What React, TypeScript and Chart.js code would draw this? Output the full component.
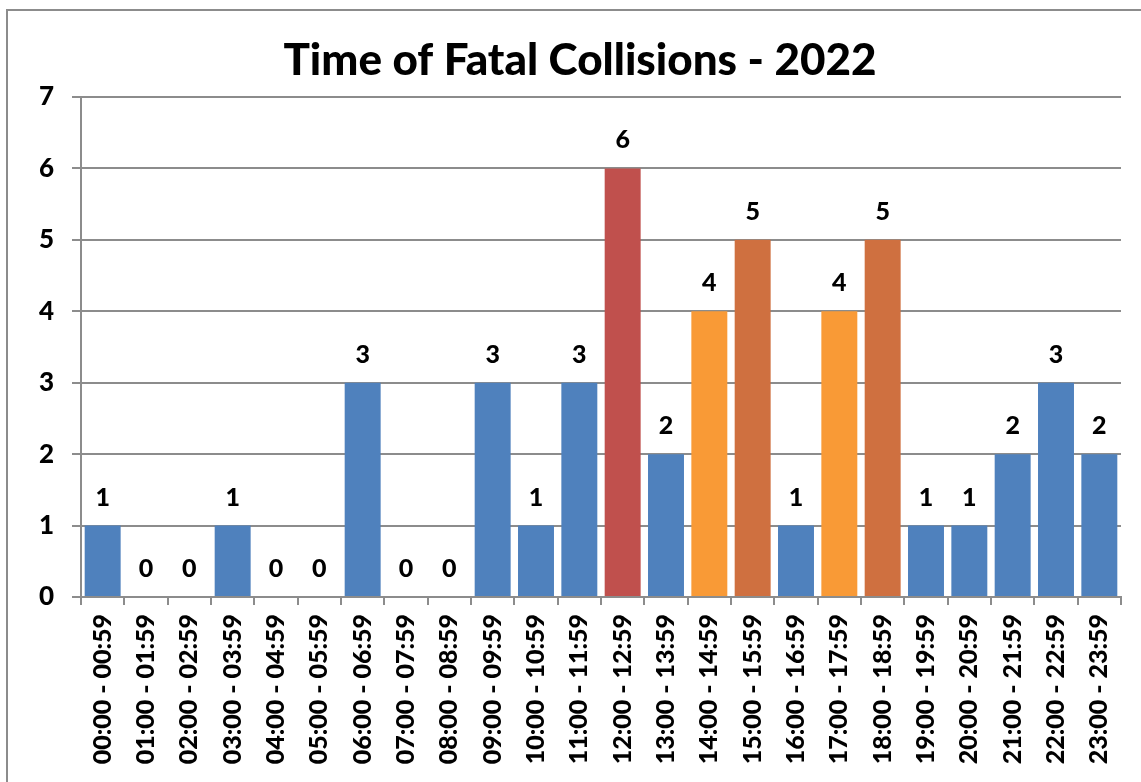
import React, { useEffect, useRef } from "react";
import { Chart, registerables } from "chart.js";

Chart.register(...registerables);

const categories = [
  "00:00 - 00:59", "01:00 - 01:59", "02:00 - 02:59", "03:00 - 03:59",
  "04:00 - 04:59", "05:00 - 05:59", "06:00 - 06:59", "07:00 - 07:59",
  "08:00 - 08:59", "09:00 - 09:59", "10:00 - 10:59", "11:00 - 11:59",
  "12:00 - 12:59", "13:00 - 13:59", "14:00 - 14:59", "15:00 - 15:59",
  "16:00 - 16:59", "17:00 - 17:59", "18:00 - 18:59", "19:00 - 19:59",
  "20:00 - 20:59", "21:00 - 21:59", "22:00 - 22:59", "23:00 - 23:59",
];

const collisions = [1, 0, 0, 1, 0, 0, 3, 0, 0, 3, 1, 3, 6, 2, 4, 5, 1, 4, 5, 1, 1, 2, 3, 2];

const BLUE = "#4F81BD";
const RED = "#C0504D";
const LIGHT_ORANGE = "#F99A36";
const DARK_ORANGE = "#CF7040";

const barColors = [
  BLUE, BLUE, BLUE, BLUE, BLUE, BLUE, BLUE, BLUE, BLUE, BLUE, BLUE, BLUE,
  RED, BLUE, LIGHT_ORANGE, DARK_ORANGE, BLUE, LIGHT_ORANGE, DARK_ORANGE,
  BLUE, BLUE, BLUE, BLUE, BLUE,
];

const FONT = "Lato, 'Open Sans', sans-serif";

const valueLabels = {
  id: "valueLabels",
  afterDatasetsDraw(chart: any) {
    const ctx = chart.ctx;
    const meta = chart.getDatasetMeta(0);
    ctx.save();
    ctx.font = `900 25px ${FONT}`;
    ctx.fillStyle = "#000";
    ctx.textAlign = "center";
    ctx.textBaseline = "middle";
    meta.data.forEach((bar: any, i: number) => {
      const v = chart.data.datasets[0].data[i];
      ctx.fillText(String(v), bar.x, bar.y - 28);
    });
    ctx.restore();
  },
};

export default function App() {
  const ref = useRef<HTMLCanvasElement>(null);
  useEffect(() => {
    if (!ref.current) return;
    const chart = new Chart(ref.current, {
      type: "bar",
      data: {
        labels: categories,
        datasets: [
          {
            data: collisions,
            backgroundColor: barColors,
            borderWidth: 0,
            barPercentage: 0.83,
            categoryPercentage: 1,
          },
        ],
      },
      options: {
        animation: false,
        responsive: false,
        events: [],
        layout: { padding: { left: 31, right: 20, top: 0, bottom: 0 } },
        plugins: {
          legend: { display: false },
          tooltip: { enabled: false },
          title: {
            display: true,
            text: "Time of Fatal Collisions - 2022",
            color: "#000",
            font: { family: FONT, size: 44, weight: "900" },
            padding: { top: 23, bottom: 10.2 },
          },
        },
        scales: {
          x: {
            offset: true,
            grid: {
              display: true,
              drawOnChartArea: false,
              drawTicks: true,
              tickLength: 8,
              color: "#8c8c8c",
              lineWidth: 2,
              offset: true,
            },
            border: { display: true, color: "#8c8c8c", width: 2 },
            ticks: {
              autoSkip: false,
              minRotation: 90,
              maxRotation: 90,
              padding: 9,
              color: "#000",
              font: { family: FONT, size: 25, weight: "900" },
            },
            afterFit(scale: any) {
              scale.height = 185;
            },
          },
          y: {
            min: 0,
            max: 7,
            ticks: {
              stepSize: 1,
              padding: 18,
              color: "#000",
              font: { family: FONT, size: 26, weight: "900" },
            },
            grid: {
              color: "#8c8c8c",
              lineWidth: 2,
              tickLength: 9,
              drawTicks: true,
            },
            border: { display: true, color: "#8c8c8c", width: 2 },
            afterFit(scale: any) {
              scale.width = 42;
            },
          },
        },
      },
      plugins: [valueLabels],
    });
    return () => chart.destroy();
  }, []);

  return (
    <div
      style={{
        position: "fixed",
        left: 6,
        top: 9,
        width: 1200,
        height: 800,
        border: "2px solid #8c8c8c",
        background: "#fff",
      }}
    >
      <canvas
        ref={ref}
        width={1133}
        height={771}
        style={{ position: "absolute", left: 0, top: 0, display: "block" }}
      />
    </div>
  );
}
